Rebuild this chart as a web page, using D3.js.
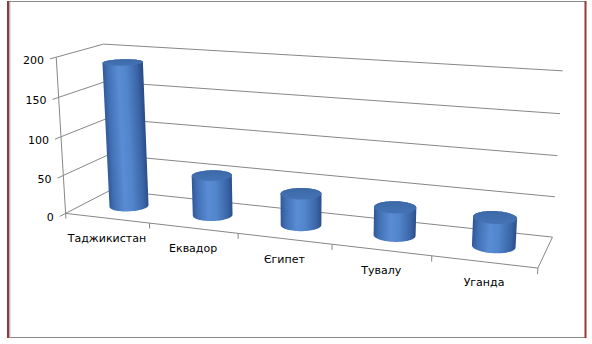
<!DOCTYPE html>
<html>
<head>
<meta charset="utf-8">
<script src="https://cdn.jsdelivr.net/npm/d3@7"></script>
<style>
body { margin: 0; background: #fff; }
text { font-family: "DejaVu Sans", sans-serif; font-size: 11px; fill: #000; }
</style>
</head>
<body>
<svg id="chart"></svg>
<script>
// chart data
var categories = ["Таджикистан", "Еквадор", "Єгипет", "Тувалу", "Уганда"];
var values = [188, 52, 40, 35, 35];
var yTicks = [0, 50, 100, 150, 200];

var width = 592, height = 344;

// where the corners of the 3d box land on screen (x, value, depth) -> (px, py)
// used to fit a perspective camera, everything else goes through project()
var anchors = [
  [0, 0, 0, 67, 213], [0, 1, 0, 55, 58], [0, 1, 1, 105, 44], [0, 0, 1, 109, 192],
  [1, 1, 1, 563, 71], [1, 0, 1, 553, 235], [1, 0, 0, 538, 269],
  [1, 0.75, 1, 560, 114], [1, 0.5, 1, 557, 156], [1, 0.25, 1, 555, 196],
  [0, 0.75, 0, 58, 97], [0, 0.5, 0, 61, 136], [0, 0.25, 0, 64, 174],
  [0.2, 0, 0, 149, 223], [0.4, 0, 0, 239, 233], [0.6, 0, 0, 332, 245], [0.8, 0, 0, 431, 257]
];

// least squares fit of a 3x4 projection matrix (last entry fixed to 1)
function fitCamera(pts) {
  var rows = [], rhs = [];
  pts.forEach(function(a) {
    var x = a[0], y = a[1], z = a[2], u = a[3], v = a[4];
    rows.push([x, y, z, 1, 0, 0, 0, 0, -u * x, -u * y, -u * z]); rhs.push(u);
    rows.push([0, 0, 0, 0, x, y, z, 1, -v * x, -v * y, -v * z]); rhs.push(v);
  });
  var n = 11, M = [], B = [];
  for (var i = 0; i < n; i++) {
    M[i] = [];
    for (var j = 0; j < n; j++) {
      var s = 0;
      for (var k = 0; k < rows.length; k++) s += rows[k][i] * rows[k][j];
      M[i][j] = s;
    }
    var sb = 0;
    for (var k2 = 0; k2 < rows.length; k2++) sb += rows[k2][i] * rhs[k2];
    B[i] = sb;
  }
  // gaussian elimination
  for (var c = 0; c < n; c++) {
    var piv = c;
    for (var r = c + 1; r < n; r++) if (Math.abs(M[r][c]) > Math.abs(M[piv][c])) piv = r;
    var tmp = M[c]; M[c] = M[piv]; M[piv] = tmp;
    var tb = B[c]; B[c] = B[piv]; B[piv] = tb;
    for (var r2 = c + 1; r2 < n; r2++) {
      var f = M[r2][c] / M[c][c];
      for (var cc = c; cc < n; cc++) M[r2][cc] -= f * M[c][cc];
      B[r2] -= f * B[c];
    }
  }
  var p = new Array(n);
  for (var i2 = n - 1; i2 >= 0; i2--) {
    var s2 = B[i2];
    for (var j2 = i2 + 1; j2 < n; j2++) s2 -= M[i2][j2] * p[j2];
    p[i2] = s2 / M[i2][i2];
  }
  return p;
}

var P = fitCamera(anchors);
function project(x, y, z) {
  var w = P[8] * x + P[9] * y + P[10] * z + 1;
  return [(P[0] * x + P[1] * y + P[2] * z + P[3]) / w,
          (P[4] * x + P[5] * y + P[6] * z + P[7]) / w];
}

var xScale = d3.scaleBand().domain(categories).range([0, 1]);
var yScale = d3.scaleLinear().domain([0, 200]).range([0, 1]);

var svg = d3.select("#chart").attr("width", width).attr("height", height);
var line = d3.line();
var defs = svg.append("defs");

// frame
svg.append("line").attr("x1", 8).attr("x2", 586).attr("y1", 1.5).attr("y2", 1.5).attr("stroke", "#8a8a8a");
svg.append("line").attr("x1", 8).attr("x2", 586).attr("y1", 337.5).attr("y2", 337.5).attr("stroke", "#8a8a8a");
svg.append("line").attr("x1", 9.8).attr("x2", 9.8).attr("y1", 1).attr("y2", 338).attr("stroke", "#9a9a9a");
svg.append("line").attr("x1", 8).attr("x2", 8).attr("y1", 1).attr("y2", 338).attr("stroke", "#953735").attr("stroke-width", 2);
svg.append("line").attr("x1", 585.5).attr("x2", 585.5).attr("y1", 1).attr("y2", 338).attr("stroke", "#953735").attr("stroke-width", 2);

var grid = svg.append("g").attr("fill", "none").attr("stroke", "#878787").attr("stroke-width", 1);

// back wall and side wall gridlines, value ticks
yTicks.forEach(function(t) {
  grid.append("path").attr("d", line([project(0, yScale(t), 1), project(1, yScale(t), 1)]));
  grid.append("path").attr("d", line([project(0, yScale(t), 0), project(0, yScale(t), 1)]));
  grid.append("path").attr("d", line([project(0, yScale(t), 0), project(0, yScale(t), -0.12)]));
});
// value axis, floor edges
grid.append("path").attr("d", line([project(0, 0, 0), project(0, 1, 0)]));
grid.append("path").attr("d", line([project(0, 0, 0), project(1, 0, 0)]));
grid.append("path").attr("d", line([project(1, 0, 0), project(1, 0, 1)]));
// category ticks
d3.range(categories.length + 1).forEach(function(i) {
  var b = i / categories.length;
  grid.append("path").attr("d", line([project(b, 0, 0), project(b, -0.035, 0)]));
});

// value labels
svg.append("g").selectAll("text").data(yTicks).enter().append("text")
  .attr("x", function(d) { return project(0, yScale(d), -0.12)[0] - 6; })
  .attr("y", function(d) { return project(0, yScale(d), -0.12)[1] + 2; })
  .attr("text-anchor", "end")
  .attr("dominant-baseline", "middle")
  .text(function(d) { return d; });

// category labels
svg.append("g").selectAll("text").data(categories).enter().append("text")
  .attr("x", function(d) { return project(xScale(d) + xScale.bandwidth() / 2, 0, 0)[0]; })
  .attr("y", function(d) { return project(xScale(d) + xScale.bandwidth() / 2, 0, 0)[1] + 21; })
  .attr("text-anchor", "middle")
  .attr("dominant-baseline", "middle")
  .text(function(d) { return d; });

// cylinders
var rx = 0.042, rz = 0.22, cz = 0.5;
function ring(cx, h) {
  return d3.range(72).map(function(i) {
    var a = i / 72 * Math.PI * 2;
    return project(cx + rx * Math.cos(a), h, cz + rz * Math.sin(a));
  });
}

var bars = svg.append("g");
categories.forEach(function(c, i) {
  var cx = xScale(c) + xScale.bandwidth() / 2;
  var h = yScale(values[i]);
  var bottom = ring(cx, 0), top = ring(cx, h);
  var hull = d3.polygonHull(bottom.concat(top));
  var left = d3.least(bottom, function(p) { return p[0]; });
  var right = d3.greatest(bottom, function(p) { return p[0]; });

  var g = defs.append("linearGradient").attr("id", "body" + i)
    .attr("gradientUnits", "userSpaceOnUse")
    .attr("x1", left[0]).attr("y1", left[1]).attr("x2", right[0]).attr("y2", right[1]);
  g.append("stop").attr("offset", "0%").attr("stop-color", "#2f5897");
  g.append("stop").attr("offset", "12%").attr("stop-color", "#416fb4");
  g.append("stop").attr("offset", "40%").attr("stop-color", "#5a8cd4");
  g.append("stop").attr("offset", "60%").attr("stop-color", "#5185cc");
  g.append("stop").attr("offset", "88%").attr("stop-color", "#3a65a6");
  g.append("stop").attr("offset", "100%").attr("stop-color", "#2b4f8a");

  bars.append("path").attr("d", "M" + hull.join("L") + "Z").attr("fill", "url(#body" + i + ")");

  var tg = defs.append("linearGradient").attr("id", "top" + i)
    .attr("x1", 0).attr("y1", 0).attr("x2", 0).attr("y2", 1);
  tg.append("stop").attr("offset", "0%").attr("stop-color", "#3d68a6");
  tg.append("stop").attr("offset", "100%").attr("stop-color", "#4473b5");
  bars.append("path").attr("d", "M" + top.join("L") + "Z").attr("fill", "url(#top" + i + ")");
});
</script>
</body>
</html>
